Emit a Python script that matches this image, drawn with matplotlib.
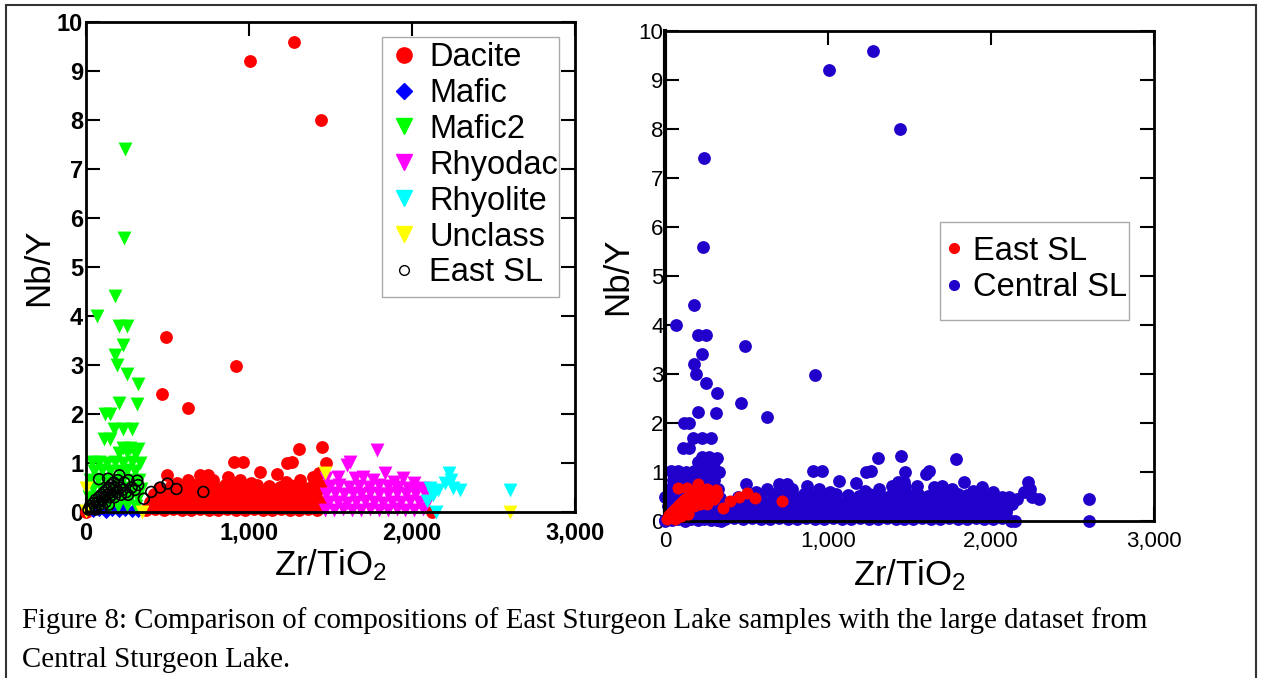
import numpy as np
import matplotlib.pyplot as plt
from matplotlib.lines import Line2D
from matplotlib.patches import Rectangle
from matplotlib.ticker import FuncFormatter

plt.rcParams['font.family'] = 'Liberation Sans'
plt.rcParams['mathtext.fontset'] = 'custom'
plt.rcParams['mathtext.rm'] = 'Liberation Sans'
plt.rcParams['mathtext.it'] = 'Liberation Sans:italic'
plt.rcParams['mathtext.bf'] = 'Liberation Sans:bold'

# ---- data: (Zr/TiO2, Nb/Y) ----
dacite = [
    (1006, 9.2), (1276, 9.6), (1442, 8.0), (490, 3.58), (920, 2.98), (468, 2.4),
    (628, 2.12), (1307, 1.29), (1448, 1.33), (1472, 1.0), (905, 1.02), (965, 1.02),
    (1233, 1.0), (1265, 1.02), (0, 0.0), (2125, 0.0),
    # ragged top of the band
    (497, 0.75), (626, 0.65), (700, 0.75), (748, 0.75), (780, 0.65), (871, 0.72),
    (945, 0.65), (1067, 0.82), (1172, 0.78), (1313, 0.65), (1393, 0.72), (1430, 0.8),
    (560, 0.6), (1010, 0.6), (1230, 0.62),
    # band rows
    (370, 0.05), (425, 0.06), (480, 0.04), (535, 0.06), (590, 0.05), (645, 0.04),
    (700, 0.06), (755, 0.05), (810, 0.04), (865, 0.06), (920, 0.05), (975, 0.04),
    (1030, 0.06), (1085, 0.05), (1140, 0.04), (1195, 0.06), (1250, 0.05), (1305, 0.04),
    (1360, 0.06), (1415, 0.05),
    (395, 0.21), (450, 0.2), (505, 0.22), (560, 0.19), (615, 0.21), (670, 0.2),
    (725, 0.22), (780, 0.2), (835, 0.19), (890, 0.21), (945, 0.2), (1000, 0.22),
    (1055, 0.2), (1110, 0.19), (1165, 0.21), (1220, 0.2), (1275, 0.22), (1330, 0.2),
    (1385, 0.19), (1440, 0.21),
    (420, 0.37), (475, 0.38), (530, 0.36), (585, 0.38), (640, 0.37), (695, 0.39),
    (750, 0.37), (805, 0.36), (860, 0.38), (915, 0.37), (970, 0.39), (1025, 0.37),
    (1080, 0.36), (1135, 0.38), (1190, 0.37), (1245, 0.39), (1300, 0.37), (1355, 0.36),
    (1410, 0.38),
    (450, 0.5), (520, 0.54), (590, 0.52), (660, 0.55), (720, 0.53), (790, 0.52),
    (850, 0.55), (920, 0.53), (990, 0.52), (1050, 0.55), (1120, 0.53), (1190, 0.52),
    (1250, 0.55), (1320, 0.53), (1380, 0.52), (1440, 0.56),
]

mafic = [
    (40, 0.02), (80, 0.05), (120, 0.01), (160, 0.04), (200, 0.02), (240, 0.05),
    (280, 0.02), (320, 0.03), (100, 0.08), (220, 0.1),
]

mafic2 = [
    (240, 7.4), (235, 5.6), (180, 4.4), (70, 4.0), (205, 3.8), (250, 3.8), (225, 3.4),
    (180, 3.2), (190, 3.0), (250, 2.82), (320, 2.62), (205, 2.22), (315, 2.2),
    (115, 2.0), (145, 2.0), (110, 1.5), (150, 1.5), (170, 1.7), (225, 1.7), (280, 1.7),
    (200, 1.2), (250, 1.22), (300, 1.2), (225, 1.3), (270, 1.3), (320, 1.28),
    (35, 1.02), (80, 1.02), (130, 1.0), (180, 1.02), (230, 1.0), (280, 1.02), (330, 1.0),
    (50, 0.84), (100, 0.85), (150, 0.83), (200, 0.84), (250, 0.86), (300, 0.84),
    (25, 0.66), (75, 0.67), (125, 0.65), (175, 0.66), (225, 0.68), (275, 0.66), (325, 0.65),
    (45, 0.48), (95, 0.49), (145, 0.47), (195, 0.48), (245, 0.5), (295, 0.48), (340, 0.47),
    (20, 0.3), (70, 0.31), (120, 0.29), (170, 0.3), (220, 0.32), (270, 0.3), (320, 0.29),
    (30, 0.12), (85, 0.13), (140, 0.11), (195, 0.12), (250, 0.14), (305, 0.12),
]

rhyodac = [
    (1620, 1.03), (1600, 0.95), (1785, 1.27), (1470, 0.7), (1545, 0.72), (1650, 0.7),
    (1700, 0.72), (1760, 0.65), (1834, 0.8), (1890, 0.62), (1945, 0.69), (2010, 0.6),
    (2067, 0.49),
    (1465, 0.05), (1520, 0.04), (1575, 0.06), (1630, 0.05), (1685, 0.04), (1740, 0.06),
    (1795, 0.05), (1850, 0.04), (1905, 0.06), (1960, 0.05), (2015, 0.04), (2065, 0.06),
    (1490, 0.2), (1545, 0.21), (1600, 0.19), (1655, 0.2), (1710, 0.22), (1765, 0.2),
    (1820, 0.19), (1875, 0.21), (1930, 0.2), (1985, 0.22), (2040, 0.2), (2090, 0.19),
    (1470, 0.37), (1525, 0.38), (1580, 0.36), (1635, 0.38), (1690, 0.37), (1745, 0.39),
    (1800, 0.37), (1855, 0.36), (1910, 0.38), (1965, 0.37), (2020, 0.39), (2080, 0.36),
    (1495, 0.53), (1555, 0.55), (1615, 0.52), (1675, 0.54), (1735, 0.52), (1795, 0.55),
    (1855, 0.53), (1915, 0.52), (1975, 0.5), (2035, 0.47),
]

rhyolite = [
    (2225, 0.8), (2240, 0.65), (2200, 0.6), (2160, 0.45), (2295, 0.45), (2250, 0.48),
    (2130, 0.35), (2110, 0.5), (2150, 0.0), (2600, 0.45), (2090, 0.22),
]

unclass = [(0, 0.5), (0, 0.02), (345, 0.0), (1465, 0.8), (2600, 0.0)]

east_sl = [
    (15, 0.05), (25, 0.12), (35, 0.08), (45, 0.18), (55, 0.12), (60, 0.25), (70, 0.2),
    (80, 0.3), (85, 0.15), (95, 0.35), (100, 0.25), (110, 0.4), (115, 0.3), (120, 0.2),
    (125, 0.45), (130, 0.35), (135, 0.68), (140, 0.5), (145, 0.3), (150, 0.4), (155, 0.55),
    (160, 0.35), (165, 0.45), (170, 0.6), (175, 0.3), (180, 0.5), (190, 0.4), (195, 0.65),
    (205, 0.75), (210, 0.5), (215, 0.35), (225, 0.45), (235, 0.6), (245, 0.4), (258, 0.35),
    (260, 0.65), (280, 0.5), (300, 0.45), (315, 0.64), (320, 0.55), (355, 0.27),
    (400, 0.41), (455, 0.5), (500, 0.58), (555, 0.47), (720, 0.41), (80, 0.67),
    (100, 0.1), (60, 0.05), (140, 0.15),
]

caption_lines = [
    "Figure 8: Comparison of compositions of East Sturgeon Lake samples with the large dataset from",
    "Central Sturgeon Lake.",
]


def xy(pts):
    a = np.array(pts, dtype=float)
    return a[:, 0], a[:, 1]


def legend_box(ax, x0, y0, w, h):
    # frame drawn by hand: the original has no side padding but tall top/bottom
    ax.add_patch(Rectangle((x0, y0), w, h, transform=ax.transAxes, facecolor='white',
                           edgecolor='#aaaaaa', lw=1.0, zorder=4, clip_on=False))


W, H = 1262, 678
fig = plt.figure(figsize=(W / 100, H / 100), dpi=100)
axL = fig.add_axes([86 / W, 1 - 512 / H, 489 / W, 490 / H])
axR = fig.add_axes([665 / W, 1 - 521 / H, 489 / W, 490 / H])

# ---- left panel: classes ----
kw = dict(linewidths=0, clip_on=False)
axL.scatter(*xy(dacite), s=85, marker='o', color='#ff0000', zorder=2, **kw)
axL.scatter(*xy(mafic), s=45, marker='D', color='#0000ff', zorder=2, **kw)
axL.scatter(*xy(mafic2), s=100, marker='v', color='#00ff00', zorder=2, **kw)
axL.scatter(*xy(rhyodac), s=100, marker='v', color='#ff00ff', zorder=2, **kw)
axL.scatter(*xy(rhyolite), s=100, marker='v', color='#00ffff', zorder=2, **kw)
axL.scatter(*xy(unclass), s=100, marker='v', color='#ffff00', zorder=2, **kw)
axL.scatter(*xy(east_sl), s=60, marker='o', facecolors='none', edgecolors='black',
            linewidths=1.2, zorder=3, clip_on=False)

# ---- right panel: central vs east ----
central = dacite + mafic + mafic2 + rhyodac + rhyolite + unclass
axR.scatter(*xy(central), s=85, marker='o', color='#2200cc', zorder=2, **kw)
axR.scatter(*xy(east_sl), s=75, marker='o', color='#ff0000', zorder=3, **kw)

fmt = FuncFormatter(lambda v, p: f'{int(v):,}')
for ax in (axL, axR):
    ax.set_xlim(0, 3000)
    ax.set_ylim(0, 10)
    ax.set_xticks([0, 1000, 2000, 3000])
    ax.set_yticks(range(11))
    ax.xaxis.set_major_formatter(fmt)
    ax.tick_params(direction='in', top=True, right=True, length=10, width=1.5)
    ax.tick_params(axis='x', pad=7)
    ax.tick_params(axis='y', pad=2)
    for sp in ax.spines.values():
        sp.set_linewidth(2)

axL.tick_params(labelsize=17)
for t in axL.get_xticklabels() + axL.get_yticklabels():
    t.set_fontweight('bold')
axR.tick_params(labelsize=16)
axR.tick_params(axis='y', pad=1)
axR.spines['left'].set_linewidth(3)

axL.set_xlabel('Zr/TiO$_2$', fontsize=25, labelpad=2)
axL.set_ylabel('Nb/Y', fontsize=25, labelpad=1)
axR.set_xlabel('Zr/TiO$_2$', fontsize=25, labelpad=4)
axR.set_ylabel('Nb/Y', fontsize=25, labelpad=3)

# ---- legends ----
hL = [
    Line2D([], [], ls='none', marker='o', ms=11, mfc='#ff0000', mec='#ff0000', label='Dacite'),
    Line2D([], [], ls='none', marker='D', ms=8, mfc='#0000ff', mec='#0000ff', label='Mafic'),
    Line2D([], [], ls='none', marker='v', ms=12, mfc='#00ff00', mec='#00ff00', label='Mafic2'),
    Line2D([], [], ls='none', marker='v', ms=12, mfc='#ff00ff', mec='#ff00ff', label='Rhyodac'),
    Line2D([], [], ls='none', marker='v', ms=12, mfc='#00ffff', mec='#00ffff', label='Rhyolite'),
    Line2D([], [], ls='none', marker='v', ms=12, mfc='#ffff00', mec='#ffff00', label='Unclass'),
    Line2D([], [], ls='none', marker='o', ms=7, mfc='none', mec='black', mew=1, label='East SL'),
]
legend_box(axL, 0.605, 0.439, 0.362, 0.530)
legL = axL.legend(handles=hL, loc='upper left', bbox_to_anchor=(0.618, 0.959),
                  fontsize=23.5, frameon=False, borderpad=0, handlelength=0.95,
                  handletextpad=0.3, labelspacing=0.15, borderaxespad=0)
legL.set_zorder(6)

hR = [
    Line2D([], [], ls='none', marker='o', ms=7, mfc='#ff0000', mec='#ff0000', label='East SL'),
    Line2D([], [], ls='none', marker='o', ms=7, mfc='#2200cc', mec='#2200cc', label='Central SL'),
]
legend_box(axR, 0.562, 0.41, 0.387, 0.20)
legR = axR.legend(handles=hR, loc='upper left', bbox_to_anchor=(0.573, 0.582),
                  fontsize=23.5, frameon=False, borderpad=0, handlelength=0.55,
                  handletextpad=0.3, labelspacing=0.17, borderaxespad=0)
legR.set_zorder(6)

# ---- caption and outer frame ----
for line, base in zip(caption_lines, (628, 667)):
    fig.text(22 / W, 1 - base / H, line, family='Liberation Serif', fontsize=20.8,
             va='baseline', ha='left')
fig.add_artist(Rectangle((6 / W, -0.05), 1250 / W, 1 - 5 / H + 0.05,
                         transform=fig.transFigure, fill=False,
                         edgecolor='#333333', lw=1.5, clip_on=False))

fig.savefig('out.png', dpi=100)
